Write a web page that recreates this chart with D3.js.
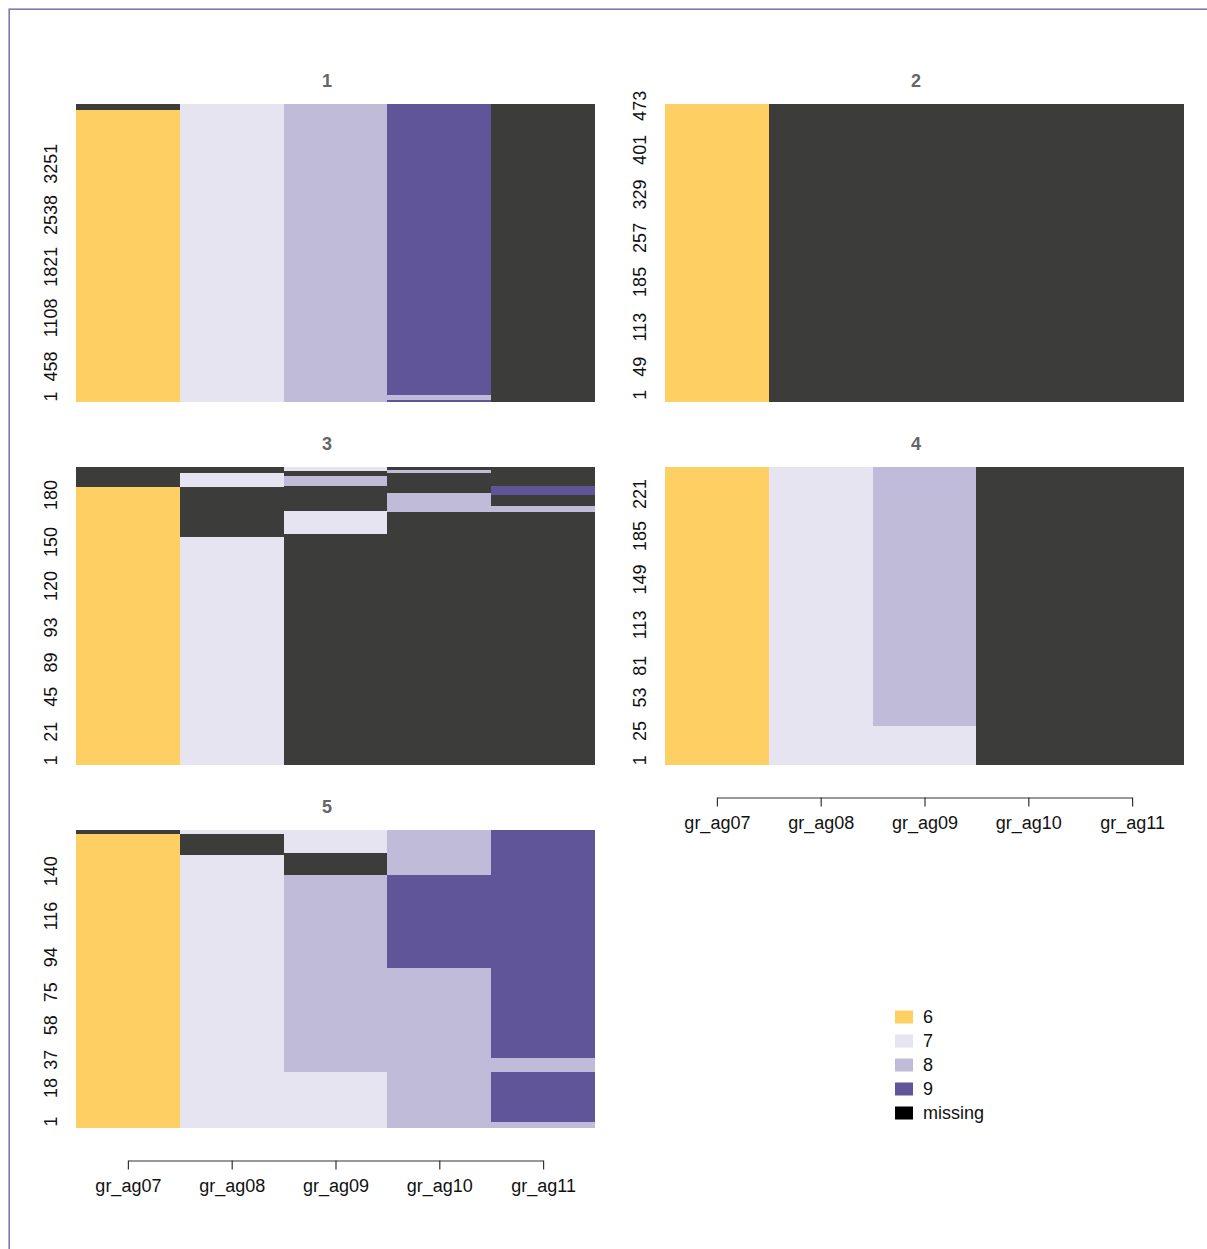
<!DOCTYPE html>
<html>
<head>
<meta charset="utf-8">
<script src="https://cdn.jsdelivr.net/npm/d3@7"></script>
<style>
  body { margin: 0; background: #fff; }
  svg { display: block; }
  text { font-family: "Liberation Sans", Arial, Helvetica, sans-serif; }
</style>
</head>
<body>
<div id="chart"></div>
<script>
// columns (time points) and states
const columns = ["gr_ag07", "gr_ag08", "gr_ag09", "gr_ag10", "gr_ag11"];
const states = ["6", "7", "8", "9", "missing"];
const stateColors = ["#FECF62", "#E6E4F0", "#BFBBD9", "#605599", "#3C3C3B"];
const legendColors = ["#FECF62", "#E6E4F0", "#BFBBD9", "#605599", "#000000"];

// panel titles and number of sequences in each cluster
const panelTitles = ["1", "2", "3", "4", "5"];
const panelSizes = [4152, 480, 204, 247, 166];

// runs per column: [state, from row, to row] (rows counted from bottom)
const panel1Runs = [
    [["6", 0, 4072], ["missing", 4072, 4152]],
    [["7", 0, 4152]],
    [["8", 0, 4152]],
    [["9", 0, 24], ["8", 24, 84], ["9", 84, 4152]],
    [["missing", 0, 4152]]
];
const panel2Runs = [
    [["6", 0, 480]],
    [["missing", 0, 480]],
    [["missing", 0, 480]],
    [["missing", 0, 480]],
    [["missing", 0, 480]]
];
const panel3Runs = [
    [["6", 0, 190], ["missing", 190, 204]],
    [["7", 0, 156], ["missing", 156, 190], ["7", 190, 200], ["missing", 200, 204]],
    [["missing", 0, 158], ["7", 158, 174], ["missing", 174, 191], ["8", 191, 198], ["missing", 198, 201], ["7", 201, 204]],
    [["missing", 0, 173], ["8", 173, 186], ["missing", 186, 200], ["8", 200, 202], ["missing", 202, 204]],
    [["missing", 0, 173], ["8", 173, 177], ["missing", 177, 185], ["9", 185, 191], ["missing", 191, 204]]
];
const panel4Runs = [
    [["6", 0, 247]],
    [["7", 0, 247]],
    [["7", 0, 32], ["8", 32, 247]],
    [["missing", 0, 247]],
    [["missing", 0, 247]]
];
const panel5Runs = [
    [["6", 0, 164], ["missing", 164, 166]],
    [["7", 0, 152], ["missing", 152, 164], ["7", 164, 166]],
    [["7", 0, 31], ["8", 31, 141], ["missing", 141, 153], ["7", 153, 166]],
    [["8", 0, 89], ["9", 89, 141], ["8", 141, 166]],
    [["8", 0, 3], ["9", 3, 31], ["8", 31, 39], ["9", 39, 166]]
];
const panelRuns = [panel1Runs, panel2Runs, panel3Runs, panel4Runs, panel5Runs];

// y tick positions (row) and the sequence labels shown there
const panelTickRows = [
    [71, 490, 1167, 1881, 2603, 3317],
    [11, 56, 120, 193, 264, 334, 406, 477],
    [3, 22.4, 46.5, 70, 94, 122.4, 152.6, 184.8],
    [3.6, 27.8, 55.6, 82, 116, 153.6, 189.7, 224.5],
    [3.4, 22, 37.8, 57, 75.5, 95, 118, 143]
];
const panelTickLabels = [
    ["1", "458", "1108", "1821", "2538", "3251"],
    ["1", "49", "113", "185", "257", "329", "401", "473"],
    ["1", "21", "45", "89", "93", "120", "150", "180"],
    ["1", "25", "53", "81", "113", "149", "185", "221"],
    ["1", "18", "37", "58", "75", "94", "116", "140"]
];

// layout
const W = 1207, H = 1249;
const plotW = 519, plotH = 297.5;
const colLeft = [76, 665];
const rowTop = [104, 467, 830];
const panelPos = [[0, 0], [1, 0], [0, 1], [1, 1], [0, 2]];
const axisPanels = [3, 4];

const color = d3.scaleOrdinal().domain(states).range(stateColors);

const svg = d3.select("#chart").append("svg")
    .attr("width", W)
    .attr("height", H);

// outer frame
svg.append("rect")
    .attr("x", 9.2).attr("y", 9.2)
    .attr("width", 1400).attr("height", 1400)
    .attr("fill", "none")
    .attr("stroke", "#7e7ab8")
    .attr("stroke-width", 1.6);

panelRuns.forEach((runs, p) => {
    const left = colLeft[panelPos[p][0]];
    const top = rowTop[panelPos[p][1]];
    const n = panelSizes[p];

    const x = d3.scaleBand().domain(columns).range([left, left + plotW]);
    const y = d3.scaleLinear().domain([0, n]).range([top + plotH, top]);

    const g = svg.append("g");

    // cells
    runs.forEach((col, ci) => {
        g.selectAll(null)
            .data(col)
            .enter().append("rect")
            .attr("x", x(columns[ci]))
            .attr("width", x.bandwidth())
            .attr("y", d => y(d[2]))
            .attr("height", d => y(d[1]) - y(d[2]))
            .attr("fill", d => color(d[0]))
            .attr("shape-rendering", "crispEdges");
    });

    // title
    g.append("text")
        .attr("x", left + plotW / 2 - 8.5)
        .attr("y", top - 17)
        .attr("text-anchor", "middle")
        .attr("font-size", 18)
        .attr("font-weight", "bold")
        .attr("fill", "#666")
        .text(panelTitles[p]);

    // y labels (no axis line, no ticks)
    g.selectAll(null)
        .data(panelTickRows[p])
        .enter().append("text")
        .attr("transform", d => `translate(${left - 19},${y(d)}) rotate(-90)`)
        .attr("text-anchor", "middle")
        .attr("font-size", 18)
        .attr("fill", "#111")
        .text((d, i) => panelTickLabels[p][i]);

    // x axis for bottom panels
    if (axisPanels.includes(p)) {
        const xp = d3.scalePoint().domain(columns)
            .range([left + x.bandwidth() / 2, left + plotW - x.bandwidth() / 2]);
        const ax = g.append("g")
            .attr("transform", `translate(0,${top + plotH + 33})`)
            .call(d3.axisBottom(xp).tickSizeInner(9).tickSizeOuter(0).tickPadding(10));
        ax.select(".domain").attr("stroke", "#333").attr("stroke-width", 1.2);
        ax.selectAll(".tick line").attr("stroke", "#333").attr("stroke-width", 1.2);
        ax.selectAll(".tick text")
            .attr("font-size", 18)
            .attr("font-family", "\"Liberation Sans\", Arial, sans-serif")
            .attr("fill", "#111");
    }
});

// legend in the empty cell
const legend = svg.append("g");
const legendY = d3.scalePoint().domain(states).range([1017, 1113]);
legend.selectAll("rect")
    .data(states)
    .enter().append("rect")
    .attr("x", 895)
    .attr("y", d => legendY(d) - 6.5)
    .attr("width", 18)
    .attr("height", 13)
    .attr("fill", (d, i) => legendColors[i]);
legend.selectAll("text")
    .data(states)
    .enter().append("text")
    .attr("x", 923)
    .attr("y", d => legendY(d))
    .attr("dy", "0.36em")
    .attr("font-size", 18)
    .attr("fill", "#111")
    .text(d => d);
</script>
</body>
</html>
